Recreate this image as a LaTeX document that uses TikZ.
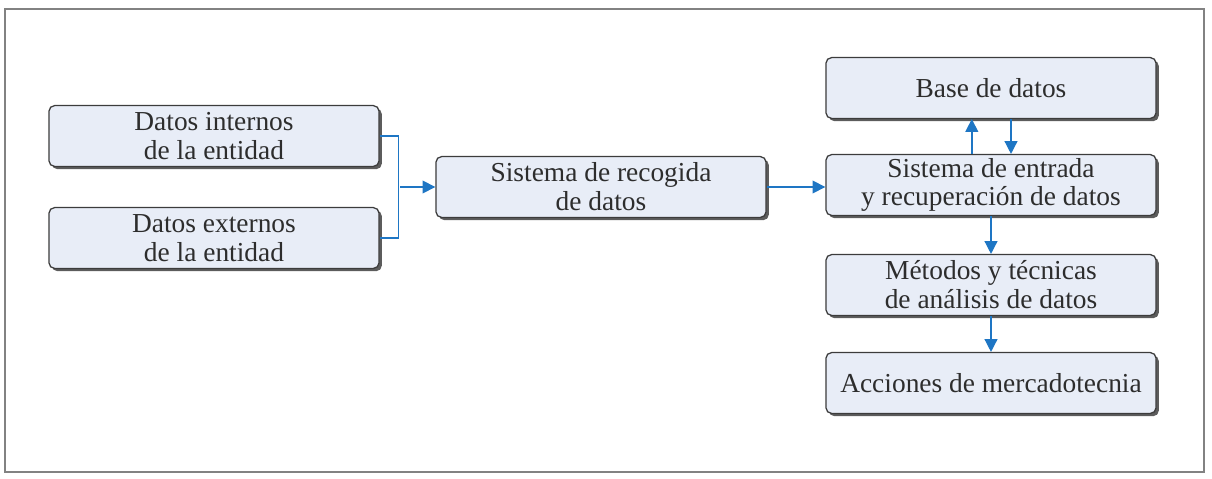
\documentclass[tikz,border=0pt]{standalone}
\usepackage{fontspec}
\setmainfont{Liberation Serif}
\usetikzlibrary{arrows.meta,positioning,shadows}
\definecolor{boxfill}{RGB}{232,237,247}
\definecolor{boxline}{RGB}{60,60,60}
\definecolor{boxtext}{RGB}{45,45,45}
\definecolor{linkblue}{RGB}{30,118,196}
\definecolor{framegray}{RGB}{130,130,130}

\begin{document}
\begin{tikzpicture}[x=0.025cm, y=-0.025cm, font=\fontsize{19.5}{20.5}\selectfont,
  databox/.style={rectangle, draw=boxline, fill=boxfill, text=boxtext, rounded corners=4pt, line width=0.9pt,
    minimum width=8.25cm, minimum height=1.52cm, align=center, inner sep=0pt,
    drop shadow={shadow xshift=2pt, shadow yshift=-2pt, fill=black!75, opacity=.85}},
  link/.style={draw=linkblue, line width=1pt},
  arr/.style={link, -{Triangle[length=3.2mm, width=3.2mm]}}]
\useasboundingbox (0,0) rectangle (1212,479);
\draw[framegray, line width=1.3pt] (5,9) rectangle (1204,472);

% left column
\node[databox] (int) at (214,136) {Datos internos\\de la entidad};
\node[databox] (ext) at (214,238) {Datos externos\\de la entidad};
\node[databox] (rec) at (601,187) {Sistema de recogida\\de datos};

% right column
\node[databox] (base) at (991,88) {Base de datos};
\node[databox] (ent) at (991,185) {Sistema de entrada\\y recuperación de datos};
\node[databox] (met) at (991,285) {Métodos y técnicas\\de análisis de datos};
\node[databox] (acc) at (991,383) {Acciones de mercadotecnia};

\coordinate (join) at (400,187);
\draw[link] (int.east) -- ++(19,0) |- (ext.east);
\draw[arr] (join) -- (rec.west);
\draw[arr] (rec.east) -- (rec.east -| ent.west);
\draw[arr] ([xshift=-0.48cm]ent.north) -- ([xshift=-0.48cm]base.south);
\draw[arr] ([xshift=0.5cm]base.south) -- ([xshift=0.5cm]ent.north);
\draw[arr] (ent.south) -- (met.north);
\draw[arr] (met.south) -- (acc.north);
\end{tikzpicture}
\end{document}
